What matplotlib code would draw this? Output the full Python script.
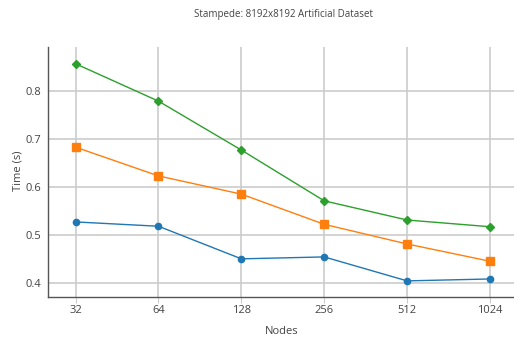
import matplotlib
matplotlib.use("Agg")
import matplotlib.pyplot as plt

nodes = ["32", "64", "128", "256", "512", "1024"]
blue = [0.527, 0.518, 0.450, 0.454, 0.404, 0.408]
orange = [0.683, 0.623, 0.585, 0.522, 0.481, 0.445]
green = [0.857, 0.779, 0.677, 0.571, 0.531, 0.517]
yticks = [0.4, 0.5, 0.6, 0.7, 0.8]

plt.rcParams['font.family'] = ['Open Sans', 'DejaVu Sans']

fig = plt.figure(figsize=(5.14, 3.40), dpi=100)
ax = fig.add_axes([47.7/514, 1-296.7/340, 1-47.7/514, (296.7-47)/340])

x = list(range(len(nodes)))
ax.plot(x, blue, color='#1f77b4', marker='o', markersize=4.5, linewidth=1, zorder=3)
ax.plot(x, orange, color='#ff7f0e', marker='s', markersize=5.5, linewidth=1, zorder=3)
ax.plot(x, green, color='#2ca02c', marker='D', markersize=4.5, linewidth=1, zorder=3)

ax.set_xlim(-0.337, 5.29)
ax.set_ylim(0.371, 0.892)
ax.set_xticks(x)
ax.set_xticklabels(nodes)
ax.set_yticks(yticks)
ax.set_yticklabels([f"{v:.1f}" for v in yticks])

ax.grid(True, color='#cccccc', linewidth=1.2)
ax.set_axisbelow(True)
for s in ['top', 'right']:
    ax.spines[s].set_visible(False)
for s in ['left', 'bottom']:
    ax.spines[s].set_color('#555555')
    ax.spines[s].set_linewidth(1)
ax.tick_params(axis='x', length=4, color='#cccccc', labelsize=8, labelcolor='#444444', pad=2)
ax.tick_params(axis='y', length=0, labelsize=8, labelcolor='#444444', pad=5)

fig.text(282/514, 1-331/340, "Nodes", ha='center', va='center', fontsize=8, color='#444444')
fig.text(18/514, 1-171/340, "Time (s)", ha='center', va='center', rotation=90, fontsize=8, color='#444444')
fig.text(0.551, 1-14/340, "Stampede: 8192x8192 Artificial Dataset", ha='center', va='center', fontsize=7, color='#444444')

fig.savefig("out.png", dpi=100)
